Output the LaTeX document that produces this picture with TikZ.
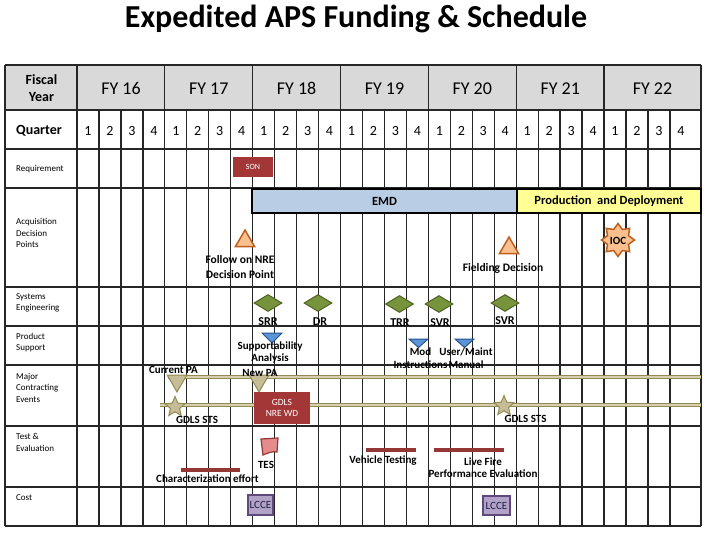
\documentclass[tikz,border=0pt]{standalone}
\usepackage{fontspec}
\setmainfont{Carlito}
\usetikzlibrary{shapes.geometric,calc}
\definecolor{hdrgray}{RGB}{217,217,217}
\definecolor{darkred}{RGB}{163,55,55}
\definecolor{emdblue}{RGB}{185,205,229}
\definecolor{prodyellow}{RGB}{255,255,150}
\definecolor{orfill}{RGB}{250,192,144}
\definecolor{ordraw}{RGB}{190,95,30}
\definecolor{grfill}{RGB}{119,147,60}
\definecolor{grdraw}{RGB}{80,98,40}
\definecolor{blfill}{RGB}{90,150,215}
\definecolor{bldraw}{RGB}{40,80,140}
\definecolor{khfill}{RGB}{196,189,151}
\definecolor{khdraw}{RGB}{148,138,84}
\definecolor{khlight}{RGB}{214,208,176}
\definecolor{barred}{RGB}{149,55,53}
\definecolor{tesfill}{RGB}{228,140,140}
\definecolor{lcfill}{RGB}{179,162,199}
\definecolor{lcdraw}{RGB}{95,73,122}
\definecolor{lctext}{RGB}{31,31,70}
\begin{document}
\begin{tikzpicture}[x=1pt,y=-1pt,
  gridline/.style={black!85, line width=1.3pt},
  rowlbl/.style={font=\fontsize{9}{11.5}\selectfont, align=left, anchor=west, inner sep=0pt},
  hdrlbl/.style={font=\bfseries\fontsize{14}{17}\selectfont, align=center, inner sep=0pt},
  fylbl/.style={font=\fontsize{18}{20}\selectfont, anchor=base, inner sep=0pt},
  qlbl/.style={font=\fontsize{14}{16}\selectfont, anchor=base, inner sep=0pt},
  lbl/.style={font=\bfseries\fontsize{11}{12.5}\selectfont, align=center, inner sep=0pt},
  lblb/.style={lbl, anchor=base},
  selbl/.style={font=\bfseries\fontsize{12}{14}\selectfont, anchor=base, inner sep=0pt},
  redbox/.style={fill=darkred, text=white, inner sep=0pt, align=center},
  phasebar/.style={draw=black, line width=2.5pt, inner sep=0pt, font=\bfseries\fontsize{12.5}{14}\selectfont},
  ortri/.style={regular polygon, regular polygon sides=3, minimum size=22pt, inner sep=0pt, fill=orfill, draw=ordraw, line width=1.5pt},
  grdia/.style={diamond, minimum width=28pt, minimum height=17pt, inner sep=0pt, fill=grfill, draw=grdraw, line width=1pt},
  bltri/.style={fill=blfill, draw=bldraw, line width=1pt},
  khtri/.style={regular polygon, regular polygon sides=3, shape border rotate=180, minimum size=22.4pt, inner sep=0pt, fill=khfill, draw=khdraw, line width=1pt},
  khstar/.style={star, star points=5, star point ratio=2.2, minimum size=21pt, inner sep=0pt, fill=khfill, draw=khdraw, line width=1pt},
  khline/.style={draw=khdraw, line width=1pt, double=khlight, double distance=1.3pt},
  effort/.style={barred, line width=3.5pt},
  lcbox/.style={fill=lcfill, draw=lcdraw, line width=1.5pt, inner sep=0pt, text=lctext, font=\fontsize{11}{12}\selectfont}
]
\useasboundingbox (0,0) rectangle (711,538);
\fill[white] (0,0) rectangle (711,538);

% title
\node[font=\bfseries\fontsize{32}{36}\selectfont, anchor=base, inner sep=0pt] (title) at (356,27) {Expedited APS Funding \& Schedule};

% header background
\fill[hdrgray] (5,65) rectangle (701,110);

% grid
\foreach \y in {65,110,149,188,287,326,365,426,487,526}
  \draw[gridline] (5,\y) -- (701,\y);
\draw[gridline] (5,65) -- (5,526);
\draw[gridline] (701,65) -- (701,526);
\foreach \i in {0,4,...,24}
  \draw[gridline] ({77+\i*21.96},65) -- ({77+\i*21.96},526);
\foreach \i in {1,2,3,5,6,7,9,10,11,13,14,15,17,18,19,21,22,23,25,26,27}
  \draw[gridline] ({77+\i*21.96},110) -- ({77+\i*21.96},526);

% header texts
\node[hdrlbl] (fiscal) at (41.5,88) {Fiscal\\Year};
\foreach \x/\t in {121/16,208.8/17,296.6/18,384.5/19,472.3/20,560.2/21,652.5/22}
  \node[fylbl] (fy\t) at (\x,94) {FY \t};
\node[hdrlbl, anchor=base west] (quarter) at (16,134.5) {Quarter};
\foreach \i in {1,...,28}{
  \pgfmathtruncatemacro{\q}{mod(\i-1,4)+1}
  \node[qlbl] (q\i) at ({77+(\i-0.5)*21.96},135) {\q};
}

% row labels
\node[rowlbl] (rreq) at (16,169) {Requirement};
\node[rowlbl] (racq) at (16,233) {Acquisition\\Decision\\Points};
\node[rowlbl] (rse) at (16,303) {Systems\\Engineering};
\node[rowlbl] (rps) at (16,342.5) {Product\\Support};
\node[rowlbl] (rmce) at (16,387.5) {Major\\Contracting\\Events};
\node[rowlbl] (rte) at (16,442.5) {Test \&\\Evaluation};
\node[rowlbl] (rcost) at (16,498) {Cost};

% requirement
\node[redbox, minimum width=40pt, minimum height=20pt, font=\fontsize{8}{9}\selectfont] (son) at (253,167) {SON};

% acquisition
\node[phasebar, fill=emdblue, minimum width=265pt, minimum height=24pt] (emd) at (384.5,201) {EMD};
\node[phasebar, fill=prodyellow, minimum width=184pt, minimum height=24pt] (prod) at (609,201) {Production\ \ and Deployment};
\node[ortri] (fon) at (245,241) {};
\node[lbl, font=\bfseries\fontsize{11.5}{15}\selectfont] (fonl) at (240,267) {Follow on NRE\\Decision Point};
\node[ortri] (fld) at (509,248) {};
\node[lblb, font=\bfseries\fontsize{11.5}{13}\selectfont] (fldl) at (503,271) {Fielding Decision};
\node[star, star points=8, star point ratio=1.45, minimum size=33pt, inner sep=0pt, fill=orfill, draw=ordraw, line width=1.5pt] (iocs) at (618,240) {};
\node[font=\bfseries\fontsize{11}{12}\selectfont, inner sep=0pt] (ioc) at (618,241) {IOC};

% systems engineering
\node[grdia] (srr) at (268,303) {};
\node[grdia] (dr) at (318,303) {};
\node[grdia] (trr) at (399.5,304) {};
\node[grdia] (svr1) at (439,304) {};
\node[grdia] (svr2) at (505,303) {};
\node[selbl] (srrl) at (268,325) {SRR};
\node[selbl] (drl) at (320,325) {DR};
\node[selbl] (trrl) at (400,326) {TRR};
\node[selbl] (svr1l) at (440,326) {SVR};
\node[selbl] (svr2l) at (505,324) {SVR};

% product support
\coordinate (ps1) at (272,333);
\coordinate (ps2) at (418.5,339);
\coordinate (ps3) at (464.5,339);
\draw[bltri, shift={(ps1)}] (-10,0) -- (10,0) -- (0,10) -- cycle;
\draw[bltri, shift={(ps2)}] (-9.5,0) -- (9.5,0) -- (0,8.5) -- cycle;
\draw[bltri, shift={(ps3)}] (-9.5,0) -- (9.5,0) -- (0,8.5) -- cycle;
\node[lbl, font=\bfseries\fontsize{11}{12}\selectfont] (psl1) at (270,352) {Supportability\\Analysis};
\node[lbl, font=\bfseries\fontsize{11}{13}\selectfont] (psl2) at (420.5,358.5) {Mod\\Instructions};
\node[lbl, font=\bfseries\fontsize{11}{13}\selectfont] (psl3) at (466,358.5) {User/Maint\\Manual};

% major contracting events
\coordinate (l1a) at (168,377);
\coordinate (l1b) at (701,377);
\coordinate (l2a) at (160,405);
\coordinate (l2b) at (701,405);
\draw[khline] (l1a) -- (l1b);
\draw[khline] (l2a) -- (l2b);
\node[khtri] (cpa) at (177,380.8) {};
\node[khtri] (npa) at (259,380.8) {};
\node[lblb] (cpal) at (173.5,373.5) {Current PA};
\node[lblb] (npal) at (260,376.5) {New PA};
\node[khstar] (sts1) at (175,407) {};
\node[khstar] (sts2) at (504,406) {};
\node[lblb] (sts1l) at (197,423.5) {GDLS STS};
\node[lblb] (sts2l) at (525.5,422.5) {GDLS STS};
\node[redbox, minimum width=56pt, minimum height=32pt, font=\fontsize{9.5}{10.5}\selectfont] (nre) at (282,408) {GDLS\\NRE WD};

% test & evaluation
\draw[fill=tesfill, draw=barred, line width=1.2pt] (261,439) -- (278,438) -- (277,452) .. controls (272,451) and (268,453) .. (263,455) -- cycle;
\node[lblb] (tesl) at (266,468.5) {TES};
\coordinate (ce1) at (181,470);
\coordinate (ce2) at (240,470);
\draw[effort] (ce1) -- (ce2);
\node[lblb] (cel) at (207.5,482.5) {Characterization effort};
\coordinate (vt1) at (366,450);
\coordinate (vt2) at (416,450);
\draw[effort] (vt1) -- (vt2);
\node[lblb] (vtl) at (383,463.5) {Vehicle Testing};
\coordinate (lf1) at (434,450);
\coordinate (lf2) at (504,450);
\draw[effort] (lf1) -- (lf2);
\node[lbl, font=\bfseries\fontsize{11}{12}\selectfont] (lfl) at (483,468) {Live Fire\\Performance Evaluation};

% cost
\node[lcbox, minimum width=25pt, minimum height=20pt] (lcce1) at (260.5,505) {LCCE};
\node[lcbox, minimum width=27pt, minimum height=19pt] (lcce2) at (496.5,505.5) {LCCE};
\end{tikzpicture}
\end{document}
